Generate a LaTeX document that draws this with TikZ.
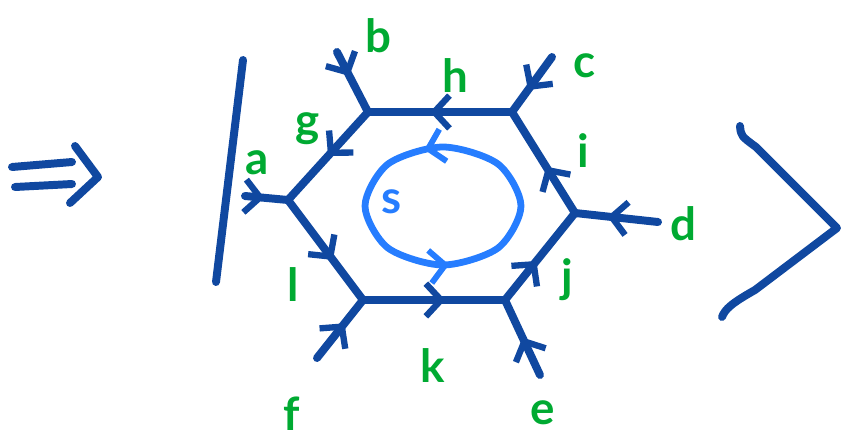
\documentclass[tikz,border=0pt]{standalone}
\usepackage{fontspec}
\setmainfont{Lato}
\usetikzlibrary{arrows.meta,decorations.markings}
\definecolor{inkblue}{RGB}{16,72,160}
\definecolor{inklight}{RGB}{38,125,255}
\definecolor{inkgreen}{RGB}{0,170,50}
\tikzset{
  ink/.style={draw=inkblue, line width=6.8pt, line cap=round, line join=round},
  arrowat/.style={postaction={decorate}, decoration={markings,
      mark=at position #1 with {\arrow[inkblue]{Straight Barb[length=13pt,width=28pt,line width=5.4pt]}}}},
  lab/.style={text=inkgreen, font=\fontsize{39}{39}\selectfont\bfseries, anchor=base, inner sep=0pt},
}
\begin{document}
\begin{tikzpicture}[x=0.03cm, y=-0.03cm]
\useasboundingbox (0,0) rectangle (841,441);
% double arrow
\draw[ink] (12,167) -- (72,162);
\draw[ink] (15,187) -- (72,184);
\draw[ink] (75,146) -- (98,177) -- (70,203);
% left bar and right angle
\draw[ink] (243,60) -- (216,282);
\draw[ink] (740,126) .. controls (741,136) .. (756,147) -- (837,228) -- (755,290) .. controls (732,303) and (725,309) .. (722,317);
% hexagon vertices
\coordinate (L)  at (288,200);
\coordinate (TL) at (368,112);
\coordinate (TR) at (512,112);
\coordinate (R)  at (575,213);
\coordinate (BR) at (505,300);
\coordinate (BL) at (363,300);
% leg ends
\coordinate (A) at (245,196);
\coordinate (B) at (337,52);
\coordinate (C) at (552,57);
\coordinate (D) at (658,222);
\coordinate (E) at (540,375);
\coordinate (F) at (317,358);
% hexagon edges
\draw[ink, arrowat=0.5]  (TL) -- (L);
\draw[ink, arrowat=0.57] (TR) -- (TL);
\draw[ink, arrowat=0.46] (R) -- (TR);
\draw[ink, arrowat=0.45] (BR) -- (R);
\draw[ink, arrowat=0.58] (BL) -- (BR);
\draw[ink, arrowat=0.6]  (L) -- (BL);
% legs
\draw[ink, arrowat=0.45] (A) -- (L);
\draw[ink, arrowat=0.4]  (B) -- (TL);
\draw[ink, arrowat=0.6]  (C) -- (TR);
\draw[ink, arrowat=0.61] (D) -- (R);
\draw[ink, arrowat=0.5]  (E) -- (BR);
\draw[ink, arrowat=0.6]  (F) -- (BL);
% inner loop
\draw[draw=inklight, line width=5.8pt, line cap=round,
      postaction={decorate}, decoration={markings,
        mark=at position 0.18 with {\arrow[inklight]{Straight Barb[length=13pt,width=28pt,line width=5pt]}},
        mark=at position 0.65 with {\arrow[inklight]{Straight Barb[length=13pt,width=28pt,line width=5pt]}}}]
  plot[smooth cycle] coordinates {(521,206) (498,164) (443,147) (388,164) (365,206) (388,248) (443,265) (498,248)};
% labels
\node[lab] (lb) at (378,52)  {b};
\node[lab] (lh) at (455,92)  {h};
\node[lab] (lc) at (585,77)  {c};
\node[lab] (lg) at (308,136) {g};
\node[lab] (la) at (257,174) {a};
\node[lab] (li) at (583,167) {i};
\node[lab] (ld) at (683,240) {d};
\node[lab] (lj) at (567,292) {j};
\node[lab] (ll) at (293,301) {l};
\node[lab] (lk) at (433,382) {k};
\node[lab] (lf) at (292,430) {f};
\node[lab] (le) at (543,424) {e};
\node[lab, text=inklight] (ls) at (392,213) {s};
\end{tikzpicture}
\end{document}
